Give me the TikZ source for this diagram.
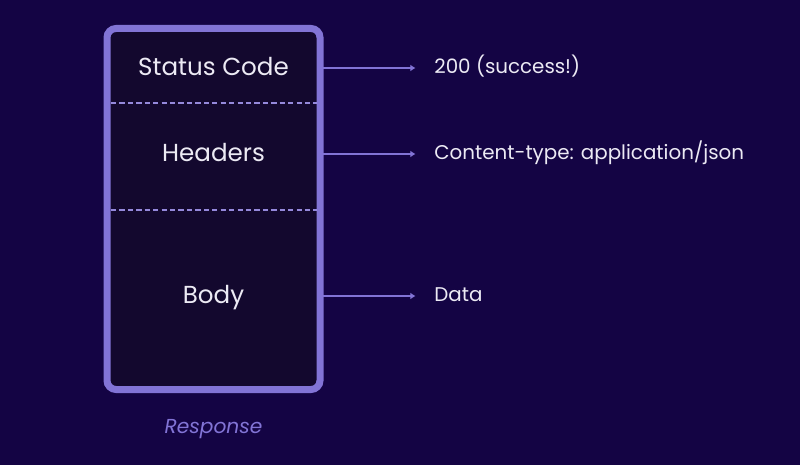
\documentclass[tikz,border=0pt]{standalone}
\usepackage{fontspec}
\setmainfont{Poppins}
\usetikzlibrary{arrows.meta,positioning}
\definecolor{rsbg}{RGB}{20,4,68}
\definecolor{rsbox}{RGB}{19,8,46}
\definecolor{rsline}{RGB}{130,116,214}
\definecolor{rstext}{RGB}{236,234,244}

\begin{document}
\begin{tikzpicture}[x=0.02cm,y=-0.02cm,
    part/.style={text=rstext,font=\fontsize{14}{16}\selectfont,minimum width=4.26cm,inner sep=0pt,text height=10.5pt,text depth=1.5pt},
    value/.style={text=rstext,font=\fontsize{11.3}{13}\selectfont,anchor=west,inner sep=0pt,text height=8pt,text depth=2pt},
    flow/.style={->,>={Latex[length=3pt,width=4pt]},rsline,line width=1.1pt}]
        \fill[rsbg] (0,0) rectangle (800,465);
        \useasboundingbox (0,0) rectangle (800,465);
        \draw[rsline,fill=rsbox,line width=0.14cm,rounded corners=0.18cm] (107,28.5) rectangle (320,389.5);
        \draw[rsline!85,line width=0.8pt,dash pattern=on 3pt off 1.8pt] (111,103) -- (317,103);
        \draw[rsline!85,line width=0.8pt,dash pattern=on 3pt off 1.8pt] (111,210) -- (317,210);
        \node[part] (status) at (213.5,68) {Status Code};
        \node[part] (headers) at (213.5,154) {Headers};
        \node[part] (body) at (213.5,296) {Body};
        \node[value] (code) at (434,68) {200 (success!)};
        \node[value] (ctype) at (434,154) {Content-type: application/json};
        \node[value] (data) at (434,296) {Data};
        \node[text=rsline,font=\fontsize{11.5}{13}\selectfont\itshape] (resp) at (213.5,429) {Response};
        \draw[flow,shorten >=10.5pt] (status.east) -- (code.west);
        \draw[flow,shorten >=10.5pt] (headers.east) -- (ctype.west);
        \draw[flow,shorten >=10.5pt] (body.east) -- (data.west);
      \end{tikzpicture}
\end{document}
